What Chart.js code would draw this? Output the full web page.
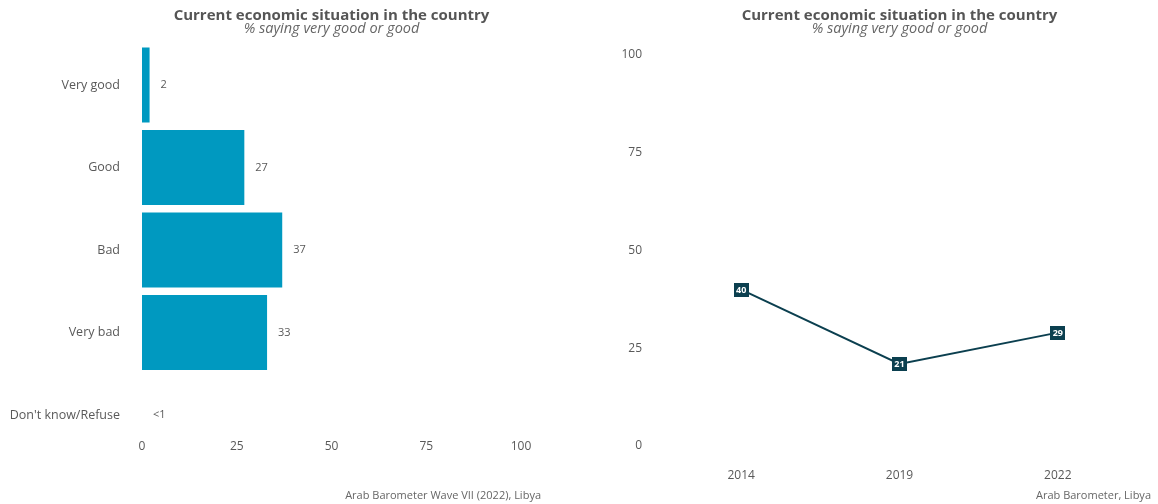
<!DOCTYPE html>
<html>
<head>
<meta charset="utf-8">
<script src="https://cdn.jsdelivr.net/npm/chart.js@4/dist/chart.umd.min.js"></script>
<style>
  html, body { margin: 0; padding: 0; background: #ffffff; }
  body { width: 1158px; height: 504px; position: relative; overflow: hidden; font-family: "Open Sans", sans-serif; }
  .wrap { position: absolute; top: 0; }
  .cap { position: absolute; font-family: "Open Sans", sans-serif; font-size: 11px; color: #666; white-space: nowrap; }
</style>
</head>
<body>
<div class="wrap" style="left:0;width:560px;height:504px;"><canvas id="left" width="560" height="504"></canvas></div>
<div class="wrap" style="left:580px;width:578px;height:504px;"><canvas id="right" width="578" height="504"></canvas></div>
<div class="cap" style="right:617px;top:487px;">Arab Barometer Wave VII (2022), Libya</div>
<div class="cap" style="right:7px;top:487px;">Arab Barometer, Libya</div>
<script>
// ---- data ----
const titleText = "Current economic situation in the country";
const subtitleText = "% saying very good or good";
const barCategories = ["Very good", "Good", "Bad", "Very bad", "Don't know/Refuse"];
const barValues = [2, 27, 37, 33, 0];
const barLabels = ["2", "27", "37", "33", "<1"];
const barTicks = [0, 25, 50, 75, 100];
const years = ["2014", "2019", "2022"];
const trendValues = [40, 21, 29];
const trendTicks = [0, 25, 50, 75, 100];

const BAR_COLOR = "#0099c0";
const LINE_COLOR = "#0b3f4f";
const TEXT = "#595959";
const FONT = "'Open Sans', sans-serif";

const titlePlugin = {
  id: 'titles',
  afterDraw(chart) {
    const ctx = chart.ctx, a = chart.chartArea;
    const cx = (a.left + a.right) / 2;
    ctx.save();
    ctx.textAlign = 'center';
    ctx.textBaseline = 'middle';
    ctx.fillStyle = '#555555';
    ctx.font = "bold 15px " + FONT;
    ctx.fillText(titleText, cx, 16);
    ctx.fillStyle = '#666666';
    ctx.font = "italic 14.5px " + FONT;
    ctx.fillText(subtitleText, cx, 28.5);
    ctx.restore();
  }
};

const barLabelPlugin = {
  id: 'barLabels',
  afterDatasetsDraw(chart) {
    const ctx = chart.ctx;
    const meta = chart.getDatasetMeta(0);
    ctx.save();
    ctx.font = "11px " + FONT;
    ctx.fillStyle = TEXT;
    ctx.textAlign = 'left';
    ctx.textBaseline = 'middle';
    meta.data.forEach((el, i) => {
      ctx.fillText(barLabels[i], el.x + 11, el.y);
    });
    // x-axis tick labels (drawn inside lower margin like the reference)
    const xs = chart.scales.x;
    ctx.font = "12px " + FONT;
    ctx.textAlign = 'center';
    barTicks.forEach(v => {
      ctx.fillText(String(v), xs.getPixelForValue(v), 447);
    });
    ctx.restore();
  }
};

const pointLabelPlugin = {
  id: 'pointLabels',
  afterDatasetsDraw(chart) {
    const ctx = chart.ctx;
    const meta = chart.getDatasetMeta(0);
    ctx.save();
    ctx.font = "bold 9px " + FONT;
    ctx.textAlign = 'center';
    ctx.textBaseline = 'middle';
    meta.data.forEach((el, i) => {
      const t = String(trendValues[i]);
      const w = ctx.measureText(t).width + 5;
      const h = 14;
      ctx.fillStyle = LINE_COLOR;
      ctx.fillRect(Math.round(el.x - w / 2), Math.round(el.y - h / 2), Math.round(w), h);
      ctx.fillStyle = '#ffffff';
      ctx.fillText(t, el.x, el.y + 0.5);
    });
    ctx.restore();
  }
};

new Chart(document.getElementById('left'), {
  type: 'bar',
  data: {
    labels: barCategories,
    datasets: [{
      data: barValues,
      backgroundColor: BAR_COLOR,
      borderWidth: 0,
      categoryPercentage: 1,
      barPercentage: 0.91
    }]
  },
  plugins: [titlePlugin, barLabelPlugin],
  options: {
    indexAxis: 'y',
    responsive: false,
    animation: false,
    layout: { padding: { top: 43.75, right: 39, left: 0, bottom: 0 } },
    plugins: { legend: { display: false }, tooltip: { enabled: false } },
    scales: {
      x: {
        min: 0, max: 100,
        afterBuildTicks(scale) { scale.ticks = barTicks.map(v => ({ value: v })); },
        afterFit(scale) { scale.height = 504 - 456.25; },
        grid: { display: false },
        border: { display: false },
        ticks: { display: false }
      },
      y: {
        afterFit(scale) { scale.width = 142; },
        grid: { display: false },
        border: { display: false },
        ticks: { color: TEXT, font: { family: FONT, size: 12.5 }, padding: 14 }
      }
    }
  }
});

new Chart(document.getElementById('right'), {
  type: 'line',
  data: {
    labels: years,
    datasets: [{
      data: trendValues,
      borderColor: LINE_COLOR,
      borderWidth: 2,
      pointRadius: 0,
      tension: 0,
      fill: false
    }]
  },
  plugins: [titlePlugin, pointLabelPlugin],
  options: {
    responsive: false,
    animation: false,
    layout: { padding: { top: 55, right: 21, left: 0, bottom: 0 } },
    plugins: { legend: { display: false }, tooltip: { enabled: false } },
    scales: {
      x: {
        offset: true,
        afterFit(scale) { scale.height = 504 - 446; },
        grid: { display: false },
        border: { display: false },
        ticks: { color: TEXT, font: { family: FONT, size: 12 }, padding: 14, maxRotation: 0 }
      },
      y: {
        min: 0, max: 100,
        afterBuildTicks(scale) { scale.ticks = trendTicks.map(v => ({ value: v })); },
        afterFit(scale) { scale.width = 82; },
        grid: { display: false },
        border: { display: false },
        ticks: { color: TEXT, font: { family: FONT, size: 12 }, padding: 12 }
      }
    }
  }
});
</script>
</body>
</html>
